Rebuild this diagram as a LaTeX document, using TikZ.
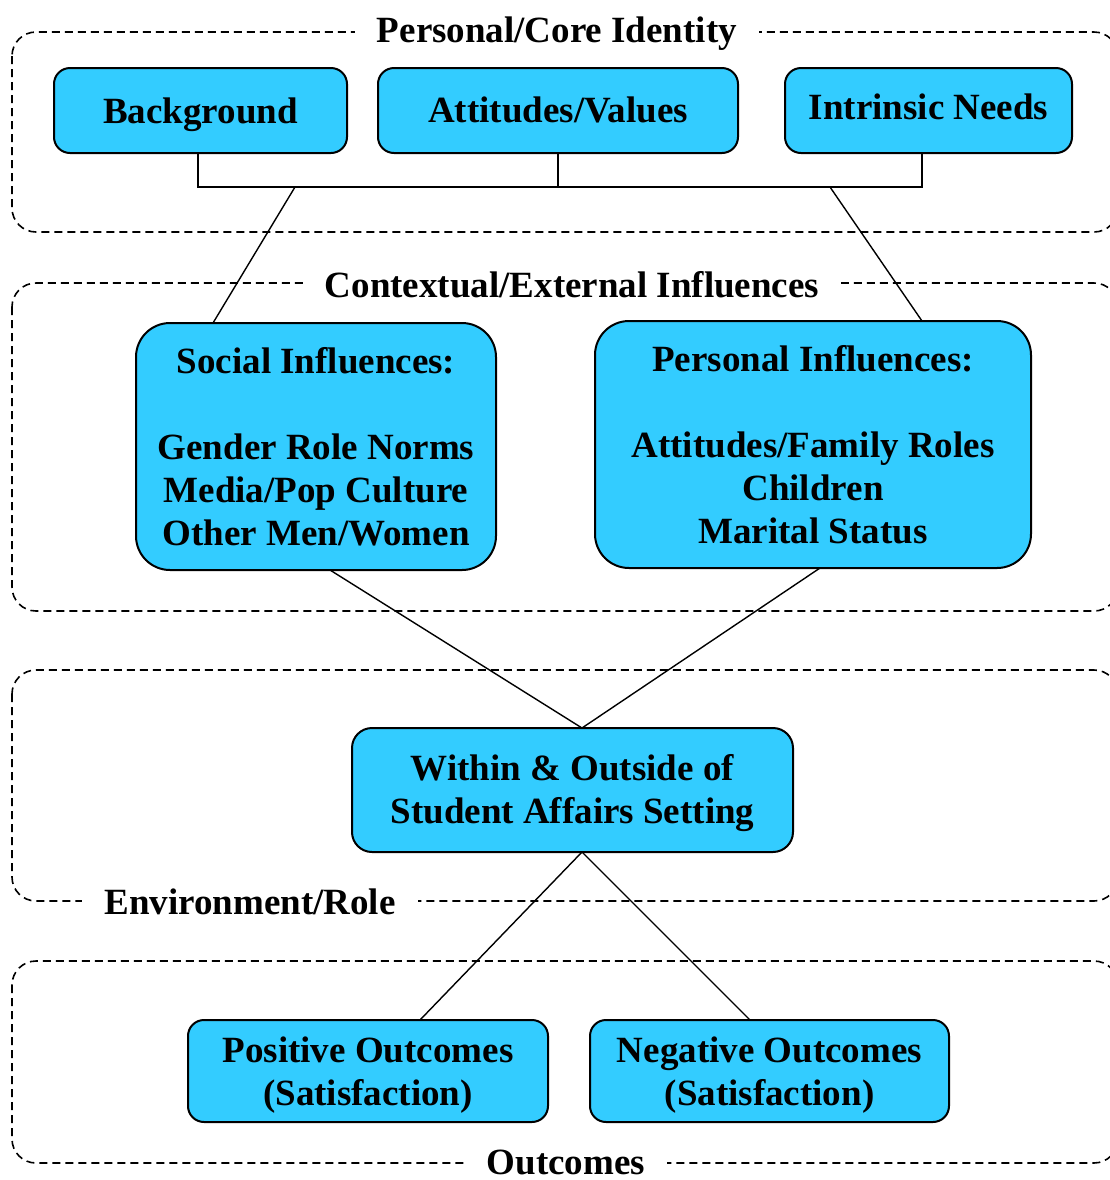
\documentclass[tikz,border=0pt]{standalone}
\usepackage{fontspec}
\setmainfont{Liberation Serif}
\usetikzlibrary{positioning}
\definecolor{boxcyan}{HTML}{33CCFF}

\begin{document}
\begin{tikzpicture}[x=0.5pt,y=-0.5pt]
    \tikzset{block/.style={
        draw, line width=1pt, fill=boxcyan, rounded corners=8pt, align=center,
        inner sep=0pt, text depth=0pt, font=\bfseries\fontsize{18.5}{21.5}\selectfont
      },
      bigblock/.style={block, rounded corners=17pt},
      frame/.style={draw, line width=0.8pt, dash pattern=on 4pt off 2.5pt, rounded corners=12pt},
      frametitle/.style={fill=white, inner xsep=11pt, inner ysep=0.5pt, text depth=0pt,
        font=\bfseries\fontsize{18.5}{21.5}\selectfont},
      link/.style={line width=0.7pt}
    }

    \useasboundingbox (0,0) rectangle (1110,1180);
    \clip (0,0) rectangle (1110,1180);

    % dashed groups
    \draw[frame] (12,32) rectangle (1118,232);
    \draw[frame] (12,283) rectangle (1118,611);
    \draw[frame] (12,670) rectangle (1118,901);
    \draw[frame] (12,961) rectangle (1118,1163);

    \node[frametitle] (coreT) at (557,30) {Personal/Core Identity};
    \node[frametitle] (ctxT) at (572,284) {Contextual/External Influences};
    \node[frametitle] (envT) at (250,902) {Environment/Role};
    \node[frametitle] (outT) at (566,1162) {Outcomes};

    % boxes
    \node[block, minimum width=146.5pt, minimum height=42.5pt] (bg) at (200.5,110.5) {Background};
    \node[block, minimum width=180pt, minimum height=42.5pt] (att) at (558,110.5) {\raisebox{1pt}{Attitudes/Values}};
    \node[block, minimum width=143.5pt, minimum height=42.5pt] (need) at (928.5,110.5) {\raisebox{3.5pt}{Intrinsic Needs}};

    \node[bigblock, minimum width=180pt, minimum height=123.5pt] (soc) at (316,446.5)
      {Social Influences:\\[21.5pt]Gender Role Norms\\Media/Pop Culture\\Other Men/Women};
    \node[bigblock, minimum width=218pt, minimum height=123.5pt] (per) at (813,444.5)
      {Personal Influences:\\[21.5pt]Attitudes/Family Roles\\Children\\Marital Status};

    \node[block, rounded corners=10pt, minimum width=220.5pt, minimum height=62pt] (env) at (572.5,790)
      {\raisebox{1.5pt}{Within \& Outside of}\\\raisebox{1.5pt}{Student Affairs Setting}};

    \node[block, minimum width=180pt, minimum height=51pt] (pos) at (368,1071)
      {Positive Outcomes\\(Satisfaction)};
    \node[block, minimum width=179.5pt, minimum height=51pt] (neg) at (769.5,1071)
      {Negative Outcomes\\(Satisfaction)};

    % connectors
    \coordinate (bus) at (558,187);
    \coordinate (busL) at (295,187);
    \coordinate (busR) at (830,187);
    \coordinate (socIn) at (213,323);
    \coordinate (perIn) at (922,321);
    \coordinate (socOut) at (330,570);
    \coordinate (perOut) at (820,568);
    \coordinate (envIn) at (582,728);
    \coordinate (envOut) at (582,852);
    \coordinate (posIn) at (420,1020);
    \coordinate (negIn) at (750,1020);

    \draw[link] ([xshift=-1.25pt]bg.south) |- (bus) -| ([xshift=-3.25pt]need.south);
    \draw[link] (att.south) -- (bus);
    \draw[link] (busL) -- (socIn);
    \draw[link] (busR) -- (perIn);
    \draw[link] (socOut) -- (envIn);
    \draw[link] (perOut) -- (envIn);
    \draw[link] (envOut) -- (posIn);
    \draw[link] (envOut) -- (negIn);
\end{tikzpicture}
\end{document}
